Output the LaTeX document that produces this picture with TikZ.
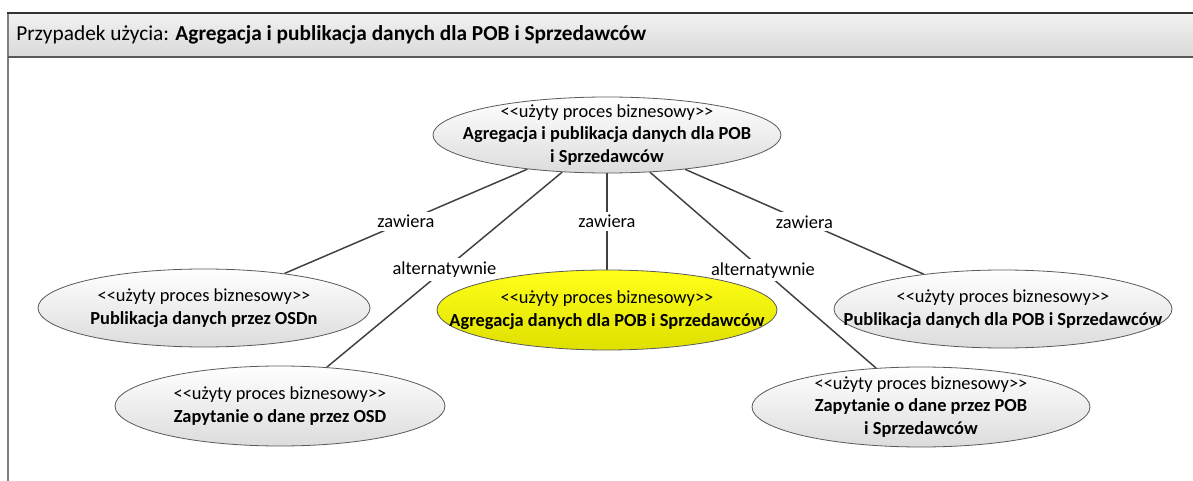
\documentclass[tikz,border=0pt]{standalone}
\usepackage{fontspec}
\setmainfont{Carlito}
\usetikzlibrary{shapes.geometric, positioning, backgrounds}
\definecolor{UCLine}{HTML}{404040}
\definecolor{UCEdge}{HTML}{595959}
\definecolor{UCFillTop}{HTML}{FFFFFF}
\definecolor{UCFillBot}{HTML}{DCDCDC}
\definecolor{UCYellowTop}{HTML}{FFFF1A}
\definecolor{UCYellowBot}{HTML}{E0E000}
\definecolor{UCHeadTop}{HTML}{F2F2F2}
\definecolor{UCHeadBot}{HTML}{D9D9D9}
\definecolor{UCFrame}{HTML}{808080}
\newcommand\ucfont{\fontsize{13.8}{17}\selectfont}
\newcommand\uchead{\fontsize{16}{19}\selectfont}
\newcommand\ucster{<\kern0pt<użyty proces biznesowy>\kern0pt>}
\tikzset{
ucproc/.style={ellipse, draw=UCEdge, line width=0.6pt, top color=UCFillTop,
  bottom color=UCFillBot, align=center, inner sep=-40pt, font=\ucfont},
ucsel/.style={ucproc, top color=UCYellowTop, bottom color=UCYellowBot},
uclink/.style={draw=UCLine, line width=1.1pt},
uclabel/.style={fill=white, inner xsep=3pt, inner ysep=2.5pt, font=\ucfont}
}

\begin{document}
\begin{tikzpicture}[x=0.75pt, y=-0.75pt]
\useasboundingbox (0,0) rectangle (1193,481);
% frame and title bar
\shade[top color=UCHeadTop, bottom color=UCHeadBot] (8,13) rectangle (1196,57);
\draw[UCFrame, line width=1.5pt] (8,13) -- (8,482);
\draw[black!80, line width=1.5pt] (7.4,13) -- (1196,13);
\draw[black!65, line width=1.5pt] (8,57) -- (1196,57);
\node[anchor=west, font=\uchead, inner sep=0pt] (title) at (16,35)
  {Przypadek użycia: \textbf{Agregacja i publikacja danych dla POB i Sprzedawców}};

% processes
\node[ucproc, minimum width=261pt, minimum height=57pt] (main) at (607,135)
  {\ucster\\\textbf{Agregacja i publikacja danych dla POB}\\\textbf{i Sprzedawców}};
\node[ucproc, minimum width=249pt, minimum height=58.5pt] (osdn) at (204,308)
  {\ucster\\\textbf{Publikacja danych przez OSDn}};
\node[ucsel, minimum width=255pt, minimum height=60pt] (agr) at (607,310)
  {\ucster\\\textbf{Agregacja danych dla POB i Sprzedawców}};
\node[ucproc, minimum width=253.5pt, minimum height=58.5pt] (pub) at (1003,309)
  {\ucster\\\textbf{Publikacja danych dla POB i Sprzedawców}};
\node[ucproc, minimum width=247.5pt, minimum height=60pt] (osd) at (280,406)
  {\ucster\\\textbf{Zapytanie o dane przez OSD}};
\node[ucproc, minimum width=253.5pt, minimum height=60pt] (pob) at (921,407)
  {\ucster\\\textbf{Zapytanie o dane przez POB}\\\textbf{i Sprzedawców}};

% relations (behind the processes)
\begin{pgfonlayer}{background}
\draw[uclink] (main) -- node[uclabel] {zawiera} (osdn);
\draw[uclink] (main) -- node[uclabel] {alternatywnie} (osd);
\draw[uclink] (main) -- node[uclabel] {zawiera} (agr);
\draw[uclink] (main) -- node[uclabel] {alternatywnie} (pob);
\draw[uclink] (main) -- node[uclabel] {zawiera} (pub);
\end{pgfonlayer}
\end{tikzpicture}
\end{document}
